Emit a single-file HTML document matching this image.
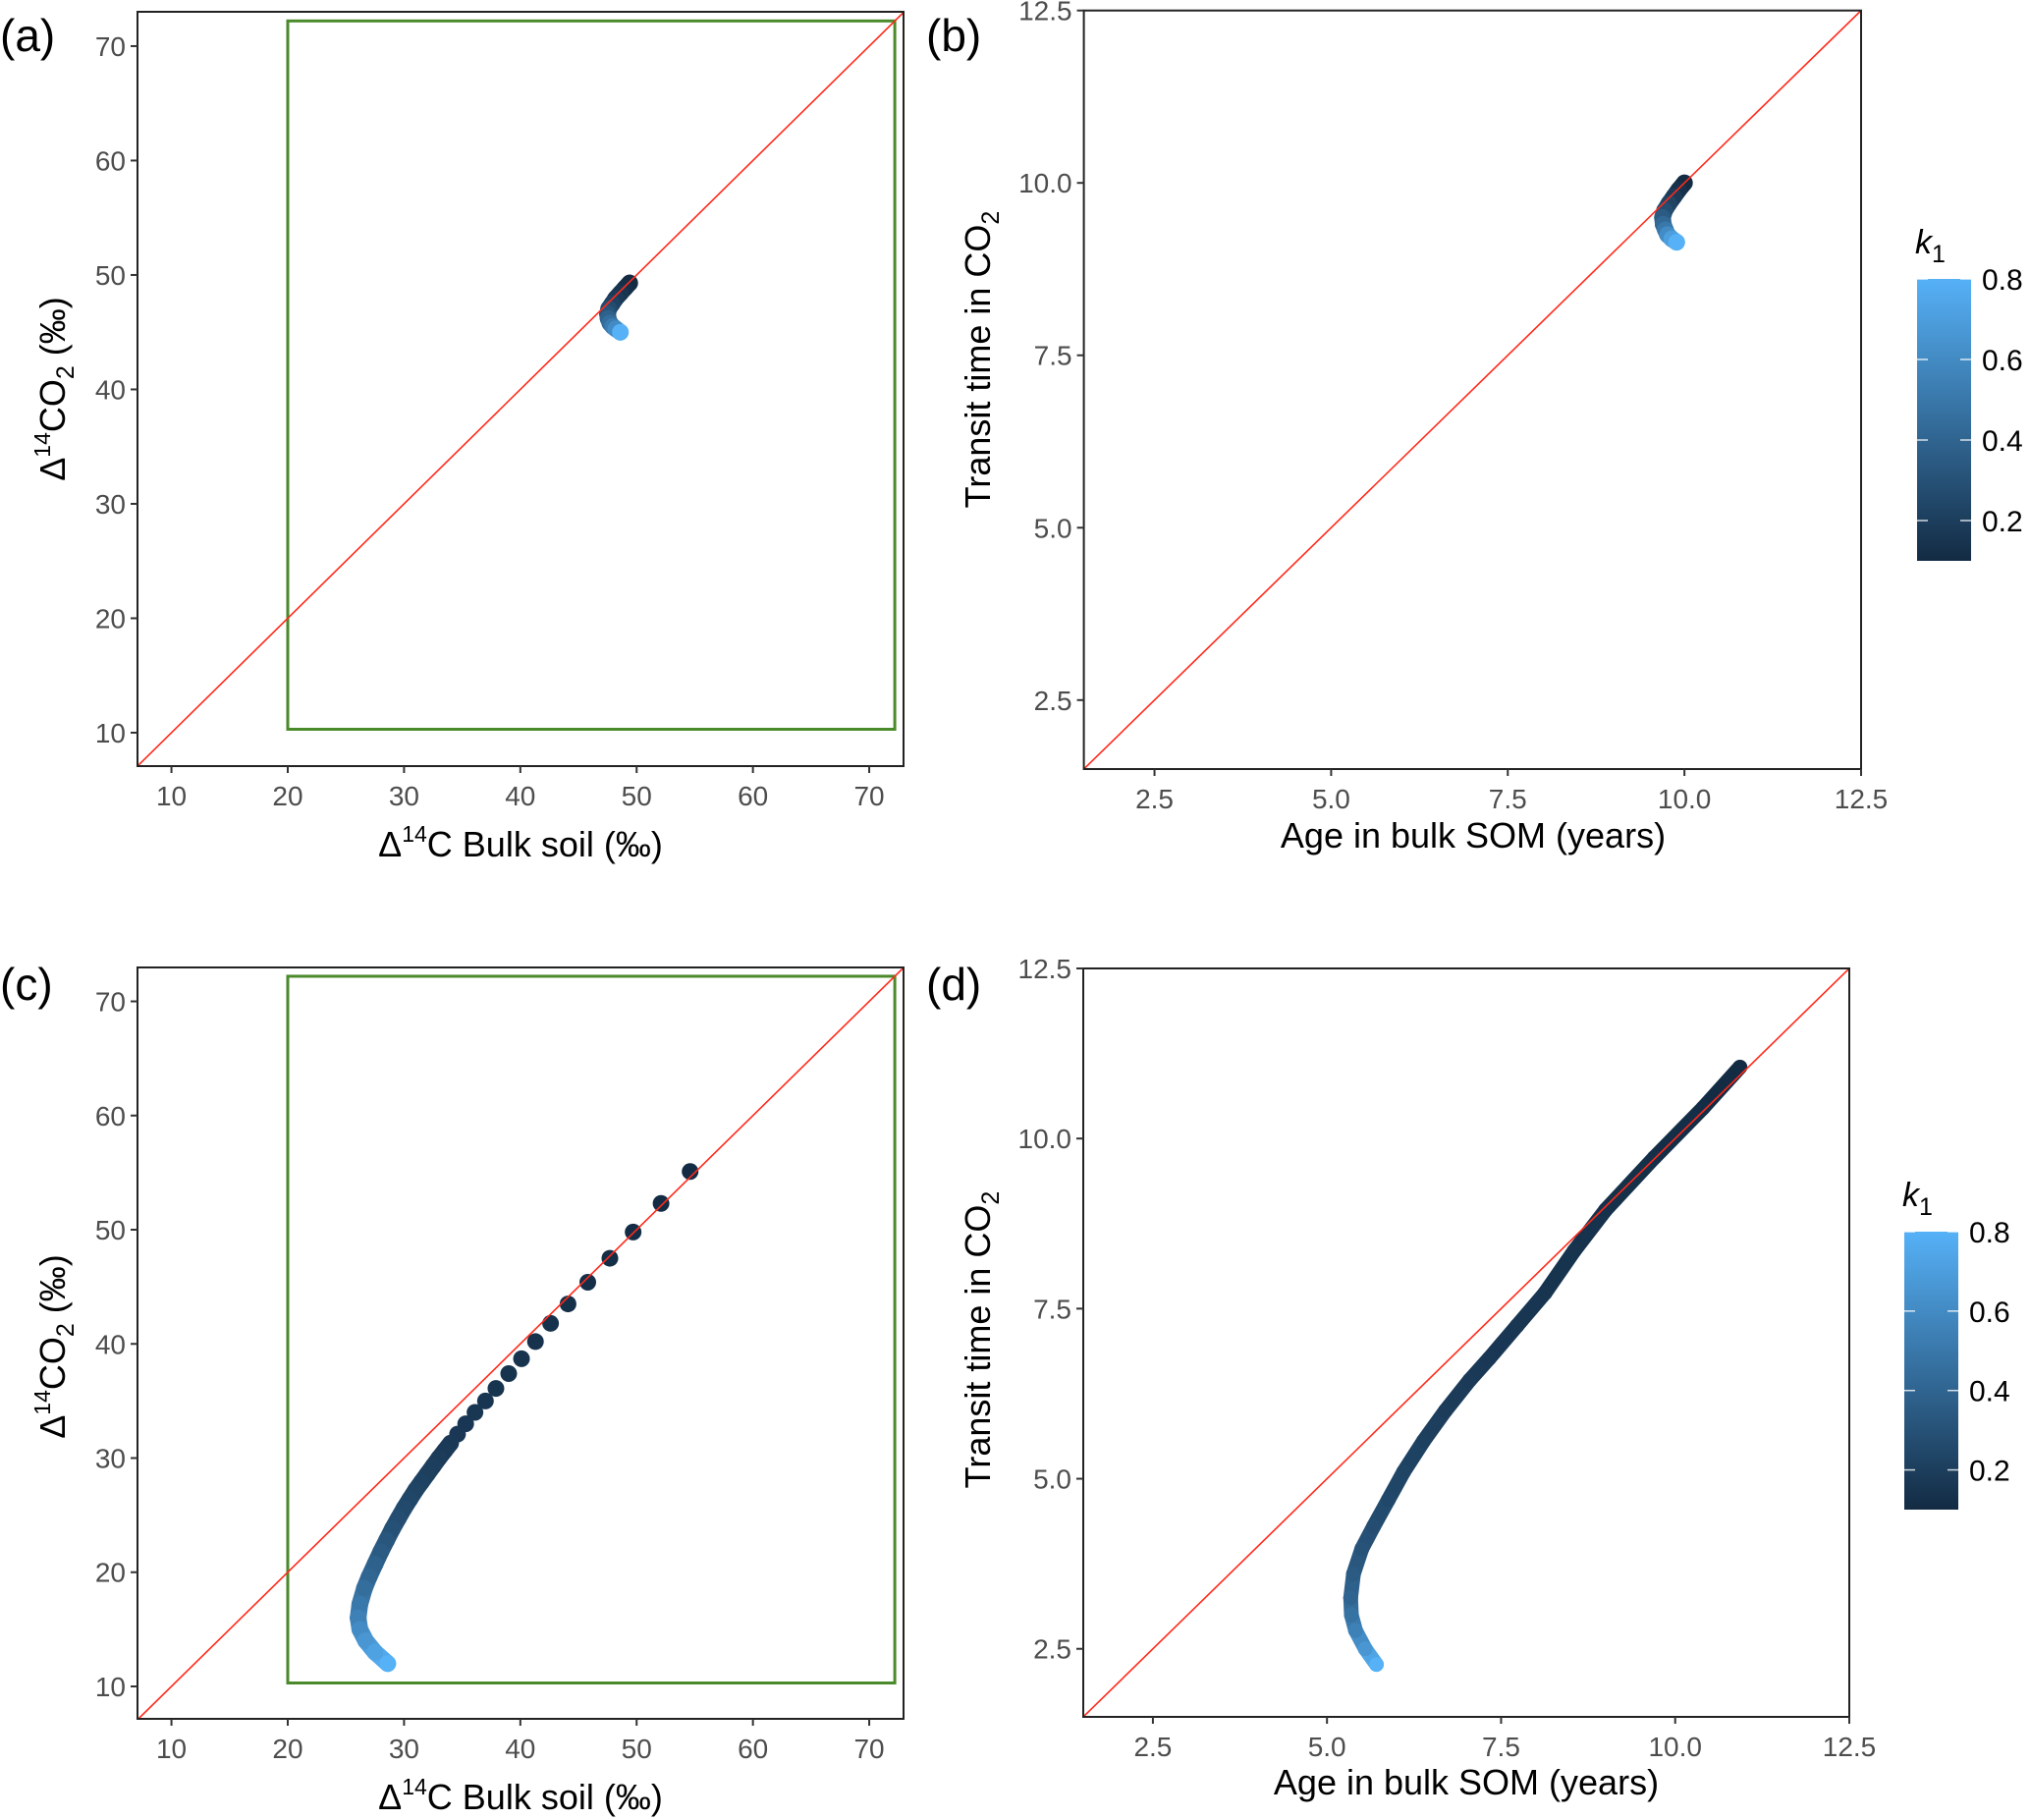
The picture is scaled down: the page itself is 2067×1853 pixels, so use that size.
<!DOCTYPE html>
<html><head><meta charset="utf-8"><style>
html,body{margin:0;padding:0;background:#fff}
svg{display:block;font-family:"Liberation Sans",Arial,sans-serif}
</style></head><body>
<svg id="fig" width="2067" height="1853" viewBox="0 0 2067 1853" xmlns="http://www.w3.org/2000/svg">
<defs>
<linearGradient id="kgrad" x1="0" y1="1" x2="0" y2="0">
<stop offset="0" stop-color="#132B43"/><stop offset="1" stop-color="#56B1F7"/>
</linearGradient>
</defs>
</svg>
<script>
// ---- data ----
const ticksPct = [10,20,30,40,50,60,70];
const ticksYr = [2.5,5.0,7.5,10.0,12.5];
const tickLabelsYr = ["2.5","5.0","7.5","10.0","12.5"];
const legendTicks = [0.2,0.4,0.6,0.8];
const legendLabels = ["0.2","0.4","0.6","0.8"];
const kMin = 0.1, kMax = 0.8;
const greenBox = [20, 72.2, 10.3, 72.2]; // x0,x1,y0,y1

const aX = [49.4,49.0,48.6,48.2,47.9,47.6,47.5,47.55,47.7,47.95,48.2,48.6];
const aY = [49.3,48.85,48.4,47.95,47.5,47.05,46.6,46.2,45.8,45.5,45.3,45.0];
const aK = [0.1,0.12,0.15,0.18,0.22,0.27,0.32,0.38,0.45,0.52,0.6,0.8];

const bX = [10.0,9.92,9.85,9.78,9.72,9.69,9.7,9.73,9.76,9.82,9.89];
const bY = [10.0,9.9,9.8,9.7,9.6,9.5,9.4,9.32,9.25,9.19,9.14];
const bK = [0.1,0.13,0.18,0.23,0.28,0.35,0.42,0.5,0.6,0.7,0.8];

const cDotX = [54.6,52.1,49.7,47.7,45.8,44.1,42.6,41.3,40.1,39.0,37.9,37.0,36.1,35.3,34.6];
const cDotY = [55.1,52.3,49.8,47.5,45.4,43.5,41.8,40.2,38.7,37.4,36.1,35.0,34.0,33.0,32.1];
const cDotK = [0.1,0.105,0.11,0.115,0.12,0.125,0.13,0.135,0.14,0.145,0.15,0.155,0.16,0.165,0.17];
const cX = [34.0,33.5,33.0,32.5,32.0,31.5,31.0,30.5,30.0,29.5,29.0,28.5,28.0,27.5,27.0,26.6,26.2,26.05,26.2,26.7,27.5,28.6];
const cY = [31.3,30.65,30.0,29.3,28.6,27.9,27.2,26.4,25.6,24.7,23.8,22.8,21.8,20.7,19.6,18.6,17.2,16.0,15.0,14.0,13.0,12.0];
const cK = [0.175,0.18,0.19,0.2,0.21,0.22,0.23,0.245,0.26,0.28,0.3,0.325,0.35,0.38,0.41,0.45,0.5,0.55,0.6,0.66,0.72,0.8];

const dX = [10.93,10.4,9.7,9.0,8.55,8.13,7.73,7.33,7.05,6.7,6.39,6.1,5.88,5.67,5.5,5.38,5.34,5.35,5.41,5.55,5.71];
const dY = [11.05,10.45,9.72,8.95,8.35,7.73,7.25,6.77,6.45,6.0,5.56,5.1,4.69,4.3,3.97,3.6,3.25,3.0,2.77,2.5,2.27];
const dK = [0.1,0.11,0.12,0.13,0.14,0.15,0.16,0.17,0.18,0.19,0.21,0.23,0.25,0.28,0.31,0.35,0.4,0.47,0.55,0.66,0.8];

// ---- helpers ----
const NS="http://www.w3.org/2000/svg";
const svg=document.getElementById('fig');
function mk(tag,attrs,parent){const e=document.createElementNS(NS,tag);for(const k in attrs)e.setAttribute(k,attrs[k]);(parent||svg).appendChild(e);return e;}
function scale(d0,d1,r0,r1){return v=>r0+(v-d0)/(d1-d0)*(r1-r0);}
function kColor(k){const t=Math.max(0,Math.min(1,(k-kMin)/(kMax-kMin)));
 const a=[0x13,0x2B,0x43],b=[0x56,0xB1,0xF7];
 return 'rgb('+a.map((v,i)=>Math.round(v+(b[i]-v)*t)).join(',')+')';}

function panel(p){
 const g=mk('g',{});
 
 
 const sx=scale(p.xd[0],p.xd[1],p.L,p.R), sy=scale(p.yd[0],p.yd[1],p.B,p.T);
 mk('rect',{x:p.L,y:p.T,width:p.R-p.L,height:p.B-p.T,fill:'#fff'},g);
 const clipId='clip-'+p.name;
 const cp=mk('clipPath',{id:clipId},g);mk('rect',{x:p.L,y:p.T,width:p.R-p.L,height:p.B-p.T},cp);
 const inner=mk('g',{'clip-path':'url(#'+clipId+')'},g);
 if(p.green){const r=mk('rect',{x:sx(greenBox[0]),y:sy(greenBox[3]),width:sx(greenBox[1])-sx(greenBox[0]),height:sy(greenBox[2])-sy(greenBox[3]),fill:'none',stroke:'#4a8a2a','stroke-width':3},inner);
  
  }
 const sg=mk('g',{},inner);
 
 
 for(const s of p.series){
  if(s.connect){for(let i=0;i<s.x.length-1;i++){
   mk('line',{x1:sx(s.x[i]),y1:sy(s.y[i]),x2:sx(s.x[i+1]),y2:sy(s.y[i+1]),stroke:kColor((s.k[i]+s.k[i+1])/2),'stroke-width':p.sw||16,'stroke-linecap':'round'},sg);}}
  for(let i=0;i<s.x.length;i++){const c=mk('circle',{cx:sx(s.x[i]),cy:sy(s.y[i]),r:(p.sw||16)/2,fill:kColor(s.k[i])},sg);
   
   }
 }
 const ln=mk('line',{x1:sx(p.xd[0]),y1:sy(p.xd[0]),x2:sx(p.xd[1]),y2:sy(p.xd[1]),stroke:'#ff2a1a','stroke-width':1.6},inner);
 
 
 mk('rect',{x:p.L,y:p.T,width:p.R-p.L,height:p.B-p.T,fill:'none',stroke:'#222','stroke-width':2},g);
 p.ticks.forEach((t,i)=>{
  const x=sx(t);mk('line',{x1:x,y1:p.B,x2:x,y2:p.B+7,stroke:'#333','stroke-width':2},g);
  const tx=mk('text',{x:x,y:p.B+40,'font-size':28,fill:'#4d4d4d','text-anchor':'middle'},g);tx.textContent=p.labels[i];
  
  
  const y=sy(t);mk('line',{x1:p.L-7,y1:y,x2:p.L,y2:y,stroke:'#333','stroke-width':2},g);
  const ty=mk('text',{x:p.L-12,y:y+10,'font-size':28,fill:'#4d4d4d','text-anchor':'end'},g);ty.textContent=p.labels[i];
  
  
 });
 const pl=mk('text',{x:p.plx,y:p.ply,'font-size':46,fill:'#000'},g);pl.textContent=p.tag;
 
 
 const xt=mk('text',{x:p.xtx,y:p.xty,'font-size':36,fill:'#000','text-anchor':'middle'},g);xt.innerHTML=p.xtitle;
 
 
 const yt=mk('text',{x:0,y:0,'font-size':36,fill:'#000','text-anchor':'middle',transform:'translate('+p.ytx+','+p.yty+') rotate(-90)'},g);yt.innerHTML=p.ytitle;
 
 
}

function legend(x,y0,y1,tx,ty){
 const g=mk('g',{});
 
 
 const t=mk('text',{x:tx,y:ty,'font-size':34,'font-style':'italic',fill:'#000'},g);
 t.innerHTML='k<tspan font-style="normal" font-size="25" dy="9">1</tspan>';
 mk('rect',{x:x,y:y0,width:55,height:y1-y0,fill:'url(#kgrad)'},g);
 const s=scale(kMin,kMax,y1,y0);
 legendTicks.forEach((v,i)=>{const y=s(v);
  mk('line',{x1:x,y1:y,x2:x+11,y2:y,stroke:'#fff','stroke-width':1.5,opacity:0.8},g);
  mk('line',{x1:x+44,y1:y,x2:x+55,y2:y,stroke:'#fff','stroke-width':1.5,opacity:0.8},g);
  const l=mk('text',{x:x+66,y:y+11,'font-size':30,fill:'#000'},g);l.textContent=legendLabels[i];
  
  });
}

const pctX='Δ<tspan font-size="23" dy="-15">14</tspan><tspan dy="15">C Bulk soil (‰)</tspan>';
const pctY='Δ<tspan font-size="23" dy="-15">14</tspan><tspan dy="15">CO</tspan><tspan font-size="25" dy="9">2</tspan><tspan dy="-9"> (‰)</tspan>';
const yrX='Age in bulk SOM (years)';
const yrY='Transit time in CO<tspan font-size="25" dy="9">2</tspan>';
const pctLabels=ticksPct.map(String);

panel({name:'panel-a',tag:'(a)',L:140,R:920,T:12,B:780,xd:[7.08,72.95],yd:[7.08,73.0],ticks:ticksPct,labels:pctLabels,green:true,sw:17,
 series:[{x:aX,y:aY,k:aK,connect:true}],plx:0,ply:52,xtx:530,xty:872,xtitle:pctX,ytx:66,yty:396,ytitle:pctY});
panel({name:'panel-b',tag:'(b)',L:1103.6,R:1895,T:10.7,B:783,xd:[1.5,12.5],yd:[1.5,12.5],ticks:ticksYr,labels:tickLabelsYr,green:false,sw:17,
 series:[{x:bX,y:bY,k:bK,connect:true}],plx:943,ply:52,xtx:1500,xty:863,xtitle:yrX,ytx:1008,yty:366,ytitle:yrY});
panel({name:'panel-c',tag:'(c)',L:140,R:920,T:985,B:1750,xd:[7.08,72.95],yd:[7.16,72.97],ticks:ticksPct,labels:pctLabels,green:true,sw:17,
 series:[{x:cDotX,y:cDotY,k:cDotK,connect:false},{x:cX,y:cY,k:cK,connect:true}],plx:0,ply:1018,xtx:530,xty:1842,xtitle:pctX,ytx:66,yty:1371,ytitle:pctY});
panel({name:'panel-d',tag:'(d)',L:1103,R:1883,T:986,B:1748,xd:[1.5,12.5],yd:[1.5,12.5],ticks:ticksYr,labels:tickLabelsYr,green:false,sw:15,
 series:[{x:dX,y:dY,k:dK,connect:true}],plx:943,ply:1018,xtx:1493,xty:1827,xtitle:yrX,ytx:1008,yty:1364,ytitle:yrY});
legend(1952,284,571,1950,258);
legend(1939,1254,1537,1937,1228);
</script>
</body></html>
